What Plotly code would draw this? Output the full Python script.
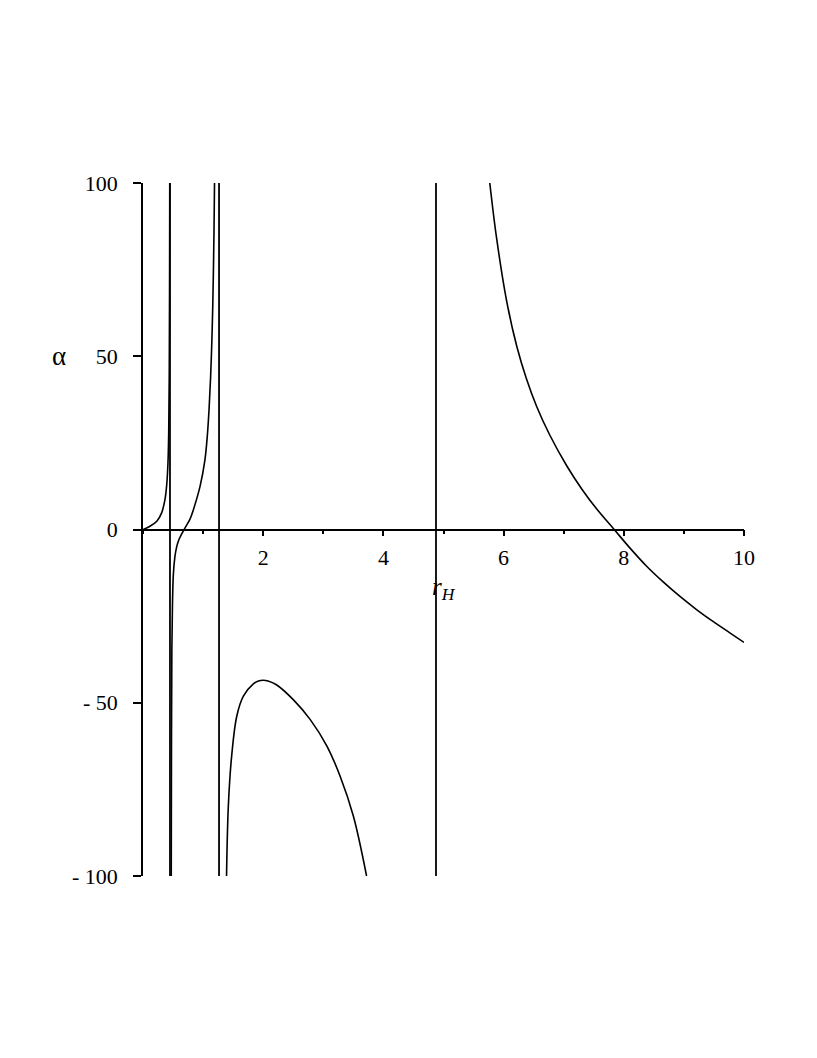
import plotly.graph_objects as go

# Branch data (r_H, alpha)
b1_x = [0.0, 0.116, 0.23, 0.31, 0.366, 0.395, 0.415, 0.428, 0.437, 0.442, 0.445]
b1_y = [0.0, 0.95, 2.4, 4.8, 8.7, 13.0, 19.0, 28.0, 45.0, 70.0, 100.0]

b2_x = [0.470, 0.474, 0.480, 0.490, 0.505, 0.53, 0.56, 0.60, 0.64, 0.70, 0.78, 0.84, 0.95,
        1.03, 1.07, 1.10, 1.125, 1.145, 1.16, 1.172, 1.182, 1.19]
b2_y = [-100.0, -60.0, -35.0, -22.0, -13.0, -8.0, -5.0, -2.8, -1.4, 0.5, 2.9, 5.8, 12.5,
        20.0, 27.0, 35.0, 44.0, 54.0, 64.0, 75.0, 87.0, 100.0]

b3_x = [1.39, 1.42, 1.475, 1.56, 1.67, 1.84, 1.92, 2.0, 2.08, 2.22, 2.50, 2.78, 3.06, 3.28, 3.50, 3.72]
b3_y = [-100.0, -79.8, -65.4, -53.9, -48.1, -44.5, -43.7, -43.5, -43.7, -44.8, -49.1, -54.8, -62.5, -71.2, -82.7, -100.0]

b4_x = [5.77, 5.88, 6.05, 6.22, 6.38, 6.55, 6.77, 7.05, 7.3, 7.55, 7.84, 8.10, 8.38, 8.66, 8.94, 9.21, 9.49, 9.77, 10.0]
b4_y = [100.0, 84.5, 66.0, 52.8, 43.5, 35.5, 27.2, 18.4, 11.7, 5.9, 0.0, -5.3, -10.6, -15.2, -19.4, -23.1, -26.6, -29.9, -32.6]

asymptote_x = [0.449, 1.265, 4.875]

x_tickvals = [2, 4, 6, 8, 10]
y_tickvals = [-100, -50, 0, 50, 100]
y_ticktext = ["- 100", "- 50", "0", "50", "100"]

FONT = "Liberation Serif, Times New Roman, serif"

fig = go.Figure()
for xs, ys in [(b1_x, b1_y), (b2_x, b2_y), (b3_x, b3_y), (b4_x, b4_y)]:
    fig.add_trace(go.Scatter(x=xs, y=ys, mode="lines",
                             line=dict(color="black", width=1.6, shape="spline", smoothing=1.0),
                             showlegend=False, hoverinfo="skip"))
for ax in asymptote_x:
    fig.add_trace(go.Scatter(x=[ax, ax], y=[-100, 100], mode="lines",
                             line=dict(color="black", width=1.8),
                             showlegend=False, hoverinfo="skip"))

fig.update_layout(
    width=801, height=1042,
    margin=dict(l=135, r=65, t=175, b=174),
    paper_bgcolor="white", plot_bgcolor="white",
    font=dict(family=FONT, size=22, color="black"),
    xaxis=dict(range=[0, 10], anchor="free", position=0.5,
               showgrid=False, zeroline=False, showline=True,
               linecolor="black", linewidth=1.6,
               tickmode="array", tickvals=x_tickvals,
               ticks="outside", ticklen=6, tickwidth=1.5, tickcolor="black",
               ticklabelstandoff=2,
               minor=dict(tickmode="linear", tick0=0, dtick=1, ticks="outside",
                          ticklen=4, tickwidth=1.5, tickcolor="black", showgrid=False),
               tickfont=dict(family=FONT, size=22, color="black")),
    yaxis=dict(range=[-100, 100], showgrid=False, zeroline=False, showline=True,
               linecolor="black", linewidth=1.6,
               tickmode="array", tickvals=y_tickvals, ticktext=y_ticktext,
               ticks="outside", ticklen=8, tickwidth=1.5, tickcolor="black",
               ticklabelstandoff=11,
               tickfont=dict(family=FONT, size=22, color="black")),
    annotations=[
        dict(text="<i>r</i><sub><i>H</i></sub>", x=5.0, y=-17, xref="x", yref="y",
             showarrow=False, font=dict(family=FONT, size=25, color="black")),
        dict(text="α", x=-0.155, y=50, xref="paper", yref="y",
             showarrow=False, font=dict(family=FONT, size=27, color="black")),
    ],
)

fig.write_html("out.html")
